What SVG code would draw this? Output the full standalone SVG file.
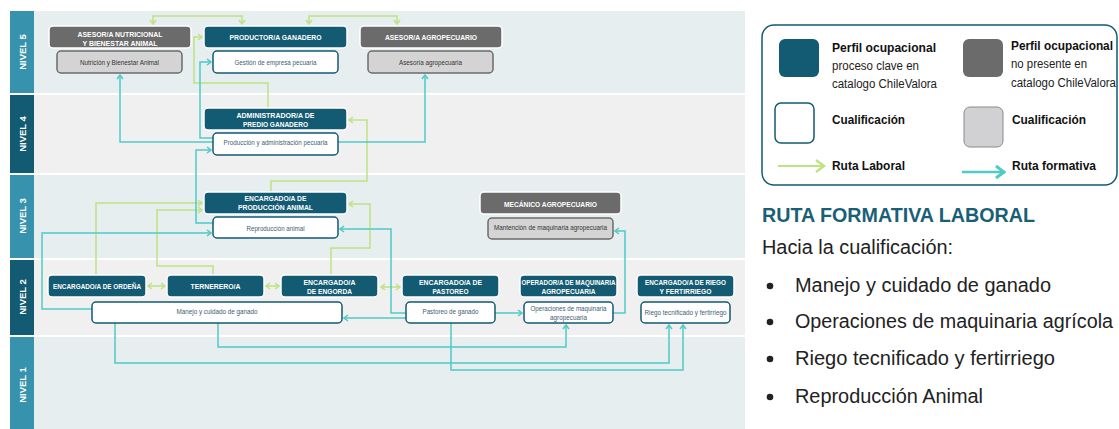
<svg xmlns="http://www.w3.org/2000/svg" width="1119" height="429" viewBox="0 0 1119 429">
<style>
.h{font-family:"Liberation Sans",Arial,sans-serif;font-weight:bold;font-size:8px;fill:#fff;text-anchor:middle}
.q{font-family:"Liberation Sans",Arial,sans-serif;font-size:6.5px;fill:#3e6070;text-anchor:middle}
.qg{fill:#333}
.pk{fill:#135a73;stroke:#fff;stroke-width:1.5}
.pg{fill:#6b6b6b;stroke:#fff;stroke-width:1.5}
.cw{fill:#fff;stroke:#135a73;stroke-width:1.5}
.cg{fill:#d4d4d4;stroke:#6b6b6b;stroke-width:1.5}
.lg{fill:none;stroke:#bfe283;stroke-width:1.5}
.lt{fill:none;stroke:#4fcac5;stroke-width:1.5}
.nv{font-family:"Liberation Sans",Arial,sans-serif;font-weight:bold;font-size:9.5px;fill:#fff;text-anchor:middle}
.lb{font-family:"Liberation Sans",Arial,sans-serif;font-weight:bold;font-size:12.5px;fill:#111}
.ln{font-family:"Liberation Sans",Arial,sans-serif;font-size:12px;fill:#222}
.rt{font-family:"Liberation Sans",Arial,sans-serif;font-size:20px;fill:#222}
</style>
<defs>
<marker id="ag" viewBox="0 0 6 8" refX="5" refY="4" markerWidth="6" markerHeight="8" orient="auto-start-reverse" markerUnits="userSpaceOnUse"><path d="M1,1 L5,4 L1,7" fill="none" stroke="#bfe283" stroke-width="1.5"/></marker>
<marker id="at" viewBox="0 0 6 8" refX="5" refY="4" markerWidth="6" markerHeight="8" orient="auto-start-reverse" markerUnits="userSpaceOnUse"><path d="M1,1 L5,4 L1,7" fill="none" stroke="#4fcac5" stroke-width="1.5"/></marker>
<marker id="agL" viewBox="0 0 12 14" refX="11" refY="7" markerWidth="12" markerHeight="14" orient="auto" markerUnits="userSpaceOnUse"><path d="M2,1 L10,7 L2,13" fill="none" stroke="#bfe283" stroke-width="2.5"/></marker>
<marker id="atL" viewBox="0 0 12 14" refX="11" refY="7" markerWidth="12" markerHeight="14" orient="auto" markerUnits="userSpaceOnUse"><path d="M2,1 L10,7 L2,13" fill="none" stroke="#4fcac5" stroke-width="3"/></marker>
</defs>
<rect width="1119" height="429" fill="#fff"/>
<g id="bands">
<rect x="34" y="11" width="711" height="82" fill="#e6eef0"/>
<rect x="34" y="95" width="711" height="78" fill="#f0f0f0"/>
<rect x="34" y="175" width="711" height="83" fill="#e6eef0"/>
<rect x="34" y="260" width="711" height="75" fill="#f0f0f0"/>
<rect x="34" y="337" width="711" height="92" fill="#e6eef0"/>
<rect x="10" y="11" width="24" height="82" fill="#3793ad"/>
<rect x="10" y="95" width="24" height="78" fill="#135a73"/>
<rect x="10" y="175" width="24" height="83" fill="#3793ad"/>
<rect x="10" y="260" width="24" height="75" fill="#135a73"/>
<rect x="10" y="337" width="24" height="92" fill="#3793ad"/>
<text class="nv" transform="translate(25.5,52) rotate(-90)">NIVEL 5</text>
<text class="nv" transform="translate(25.5,134) rotate(-90)">NIVEL 4</text>
<text class="nv" transform="translate(25.5,216) rotate(-90)">NIVEL 3</text>
<text class="nv" transform="translate(25.5,297) rotate(-90)">NIVEL 2</text>
<text class="nv" transform="translate(25.5,385) rotate(-90)">NIVEL 1</text>
</g>
<g id="connectors">
<path class="lg" d="M153,24 V16 H242 V24" marker-start="url(#ag)" marker-end="url(#ag)"/>
<path class="lg" d="M309,24 V16 H397 V24" marker-start="url(#ag)" marker-end="url(#ag)"/>
<path class="lg" d="M268,108 V83 H194 V37 H202" marker-end="url(#ag)"/>
<path class="lg" d="M271,192 V181 H367 V120 H349" marker-end="url(#ag)"/>
<path class="lg" d="M96,275 V203 H202" marker-end="url(#ag)"/>
<path class="lg" d="M213,275 V266 H157 V210 H202" marker-end="url(#ag)"/>
<path class="lg" d="M331,275 V248 H370 V204 H349" marker-end="url(#ag)"/>
<path class="lg" d="M148,286 H165" marker-start="url(#ag)" marker-end="url(#ag)"/>
<path class="lg" d="M266,286 H279" marker-start="url(#ag)" marker-end="url(#ag)"/>
<path class="lg" d="M381,287 H400" marker-start="url(#ag)" marker-end="url(#ag)"/>
<path class="lt" d="M213,138 H200 V62 H211" marker-end="url(#at)"/>
<path class="lt" d="M213,142 H120 V75" marker-end="url(#at)"/>
<path class="lt" d="M338,142 H425 V75" marker-end="url(#at)"/>
<path class="lt" d="M213,223 H196 V150 H211" marker-end="url(#at)"/>
<path class="lt" d="M92,309 H42 V233 H211" marker-end="url(#at)"/>
<path class="lt" d="M406,313 H391 V229 H340" marker-end="url(#at)"/>
<path class="lt" d="M406,318 H344" marker-end="url(#at)"/>
<path class="lt" d="M495,313 H522" marker-end="url(#at)"/>
<path class="lt" d="M613,313 H625 V231 H615" marker-end="url(#at)"/>
<path class="lt" d="M115,323 V363 H669 V325" marker-end="url(#at)"/>
<path class="lt" d="M218,323 V347 H566 V325" marker-end="url(#at)"/>
<path class="lt" d="M451,323 V370 H683 V325" marker-end="url(#at)"/>
</g>
<g id="n-asesor-nutricional">
<rect class="pg" x="49" y="26" width="142" height="22" rx="4"/>
<text class="h" x="120" y="37" textLength="85" lengthAdjust="spacingAndGlyphs">ASESOR/A NUTRICIONAL</text>
<text class="h" x="120" y="46" textLength="75" lengthAdjust="spacingAndGlyphs">Y BIENESTAR ANIMAL</text>
<rect class="cg" x="57" y="51" width="125" height="22" rx="4"/>
<text class="q qg" x="119.5" y="64.5" textLength="79" lengthAdjust="spacingAndGlyphs">Nutrición y Bienestar Animal</text>
</g>
<g id="n-productor">
<rect class="pk" x="204" y="26" width="143" height="22" rx="4"/>
<text class="h" x="275.5" y="40" textLength="92" lengthAdjust="spacingAndGlyphs">PRODUCTOR/A GANADERO</text>
<rect class="cw" x="213" y="51" width="125" height="22" rx="4"/>
<text class="q" x="275.5" y="64.5" textLength="82" lengthAdjust="spacingAndGlyphs">Gestión de empresa pecuaria</text>
</g>
<g id="n-asesor-agro">
<rect class="pg" x="360" y="26" width="142" height="22" rx="4"/>
<text class="h" x="431" y="40" textLength="92" lengthAdjust="spacingAndGlyphs">ASESOR/A AGROPECUARIO</text>
<rect class="cg" x="368" y="51" width="125" height="22" rx="4"/>
<text class="q qg" x="430.5" y="64.5" textLength="63" lengthAdjust="spacingAndGlyphs">Asesoría agropecuaria</text>
</g>
<g id="n-administrador">
<rect class="pk" x="204" y="108" width="143" height="22" rx="4"/>
<text class="h" x="275.5" y="118" textLength="78" lengthAdjust="spacingAndGlyphs">ADMINISTRADOR/A DE</text>
<text class="h" x="275.5" y="127" textLength="65" lengthAdjust="spacingAndGlyphs">PREDIO GANADERO</text>
<rect class="cw" x="213" y="133" width="125" height="22" rx="4"/>
<text class="q" x="275.5" y="144.5" textLength="104" lengthAdjust="spacingAndGlyphs">Producción y administración pecuaria</text>
</g>
<g id="n-produccion-animal">
<rect class="pk" x="204" y="192" width="143" height="22" rx="4"/>
<text class="h" x="275.5" y="201" textLength="62" lengthAdjust="spacingAndGlyphs">ENCARGADO/A DE</text>
<text class="h" x="275.5" y="210" textLength="75" lengthAdjust="spacingAndGlyphs">PRODUCCIÓN ANIMAL</text>
<rect class="cw" x="213" y="217" width="125" height="21" rx="4"/>
<text class="q" x="275.5" y="230.5" textLength="58" lengthAdjust="spacingAndGlyphs">Reproducción animal</text>
</g>
<g id="n-mecanico">
<rect class="pg" x="480" y="192" width="141" height="22" rx="4"/>
<text class="h" x="550.5" y="207" textLength="93" lengthAdjust="spacingAndGlyphs">MECÁNICO AGROPECUARIO</text>
<rect class="cg" x="488" y="218" width="125" height="21" rx="4"/>
<text class="q qg" x="550.5" y="230" textLength="113" lengthAdjust="spacingAndGlyphs">Mantención de maquinaria agropecuaria</text>
</g>
<g id="n-ordena">
<rect class="pk" x="48" y="275" width="98" height="22" rx="4"/>
<text class="h" x="97" y="288.5" textLength="88" lengthAdjust="spacingAndGlyphs">ENCARGADO/A DE ORDEÑA</text>
</g>
<g id="n-ternerero">
<rect class="pk" x="167" y="275" width="97" height="22" rx="4"/>
<text class="h" x="215.5" y="288.5" textLength="50" lengthAdjust="spacingAndGlyphs">TERNERERO/A</text>
</g>
<g id="n-engorda">
<rect class="pk" x="281" y="275" width="97" height="22" rx="4"/>
<text class="h" x="329.5" y="285" textLength="52" lengthAdjust="spacingAndGlyphs">ENCARGADO/A</text>
<text class="h" x="329.5" y="294" textLength="45" lengthAdjust="spacingAndGlyphs">DE ENGORDA</text>
</g>
<g id="q-manejo">
<rect class="cw" x="92" y="302" width="250" height="21" rx="4"/>
<text class="q" x="217" y="313.5" textLength="81" lengthAdjust="spacingAndGlyphs">Manejo y cuidado de ganado</text>
</g>
<g id="n-pastoreo">
<rect class="pk" x="402" y="275" width="97" height="22" rx="4"/>
<text class="h" x="450.5" y="285" textLength="63" lengthAdjust="spacingAndGlyphs">ENCARGADO/A DE</text>
<text class="h" x="450.5" y="294" textLength="36" lengthAdjust="spacingAndGlyphs">PASTOREO</text>
<rect class="cw" x="406" y="302" width="89" height="21" rx="4"/>
<text class="q" x="450.5" y="314" textLength="56" lengthAdjust="spacingAndGlyphs">Pastoreo de ganado</text>
</g>
<g id="n-operador">
<rect class="pk" x="520" y="275" width="97" height="22" rx="4"/>
<text class="h" x="568.5" y="285" textLength="94" lengthAdjust="spacingAndGlyphs">OPERADOR/A DE MAQUINARIA</text>
<text class="h" x="568.5" y="294" textLength="54" lengthAdjust="spacingAndGlyphs">AGROPECUARIA</text>
<rect class="cw" x="524" y="302" width="89" height="21" rx="4"/>
<text class="q" x="568.5" y="311" textLength="76" lengthAdjust="spacingAndGlyphs">Operaciones de maquinaria</text>
<text class="q" x="568.5" y="319.5" textLength="37" lengthAdjust="spacingAndGlyphs">agropecuaria</text>
</g>
<g id="n-riego">
<rect class="pk" x="637" y="275" width="97" height="22" rx="4"/>
<text class="h" x="685.5" y="285" textLength="81" lengthAdjust="spacingAndGlyphs">ENCARGADO/A DE RIEGO</text>
<text class="h" x="685.5" y="294" textLength="52" lengthAdjust="spacingAndGlyphs">Y FERTIRRIEGO</text>
<rect class="cw" x="641" y="302" width="89" height="21" rx="4"/>
<text class="q" x="685.5" y="315" textLength="82" lengthAdjust="spacingAndGlyphs">Riego tecnificado y fertirriego</text>
</g>
<g id="legend">
<rect x="762" y="25" width="355" height="160" rx="12" fill="#fff" stroke="#135a73" stroke-width="1.5"/>
<rect x="779" y="39" width="40" height="38" rx="6" fill="#135a73"/>
<text class="lb" x="832" y="52" textLength="104" lengthAdjust="spacingAndGlyphs">Perfil ocupacional</text>
<text class="ln" x="832" y="70" textLength="87" lengthAdjust="spacingAndGlyphs">proceso clave en</text>
<text class="ln" x="832" y="88" textLength="105" lengthAdjust="spacingAndGlyphs">catalogo ChileValora</text>
<rect x="963" y="39" width="40" height="38" rx="6" fill="#6b6b6b"/>
<text class="lb" x="1011" y="50" textLength="102" lengthAdjust="spacingAndGlyphs">Perfil ocupacional</text>
<text class="ln" x="1011" y="68" textLength="76" lengthAdjust="spacingAndGlyphs">no presente en</text>
<text class="ln" x="1011" y="87" textLength="105" lengthAdjust="spacingAndGlyphs">catalogo ChileValora</text>
<rect x="775" y="103" width="39" height="40" rx="6" fill="#fff" stroke="#135a73" stroke-width="1.5"/>
<text class="lb" x="832" y="124" textLength="73" lengthAdjust="spacingAndGlyphs">Cualificación</text>
<rect x="964" y="107" width="39" height="40" rx="6" fill="#d1d1d3" stroke="#8a8a8a" stroke-width="1"/>
<text class="lb" x="1012" y="124" textLength="74" lengthAdjust="spacingAndGlyphs">Cualificación</text>
<path d="M778,166 H825" fill="none" stroke="#bfe283" stroke-width="2" marker-end="url(#agL)"/>
<text class="lb" x="832" y="170" textLength="73" lengthAdjust="spacingAndGlyphs">Ruta Laboral</text>
<path d="M962,172 H1005" fill="none" stroke="#4fcac5" stroke-width="2.5" marker-end="url(#atL)"/>
<text class="lb" x="1012" y="170" textLength="84" lengthAdjust="spacingAndGlyphs">Ruta formativa</text>
</g>
<g id="summary">
<text x="762" y="222" font-family="Liberation Sans, Arial, sans-serif" font-weight="bold" font-size="21" fill="#1a5f78" textLength="273" lengthAdjust="spacingAndGlyphs">RUTA FORMATIVA LABORAL</text>
<text class="rt" x="762" y="254" textLength="191" lengthAdjust="spacingAndGlyphs">Hacia la cualificación:</text>
<circle cx="770" cy="286" r="3.3" fill="#222"/>
<text class="rt" x="795" y="292" textLength="256" lengthAdjust="spacingAndGlyphs">Manejo y cuidado de ganado</text>
<circle cx="770" cy="322" r="3.3" fill="#222"/>
<text class="rt" x="795" y="328" textLength="318" lengthAdjust="spacingAndGlyphs">Operaciones de maquinaria agrícola</text>
<circle cx="770" cy="359" r="3.3" fill="#222"/>
<text class="rt" x="795" y="365" textLength="260" lengthAdjust="spacingAndGlyphs">Riego tecnificado y fertirriego</text>
<circle cx="770" cy="397" r="3.3" fill="#222"/>
<text class="rt" x="795" y="403" textLength="188" lengthAdjust="spacingAndGlyphs">Reproducción Animal</text>
</g>
</svg>
